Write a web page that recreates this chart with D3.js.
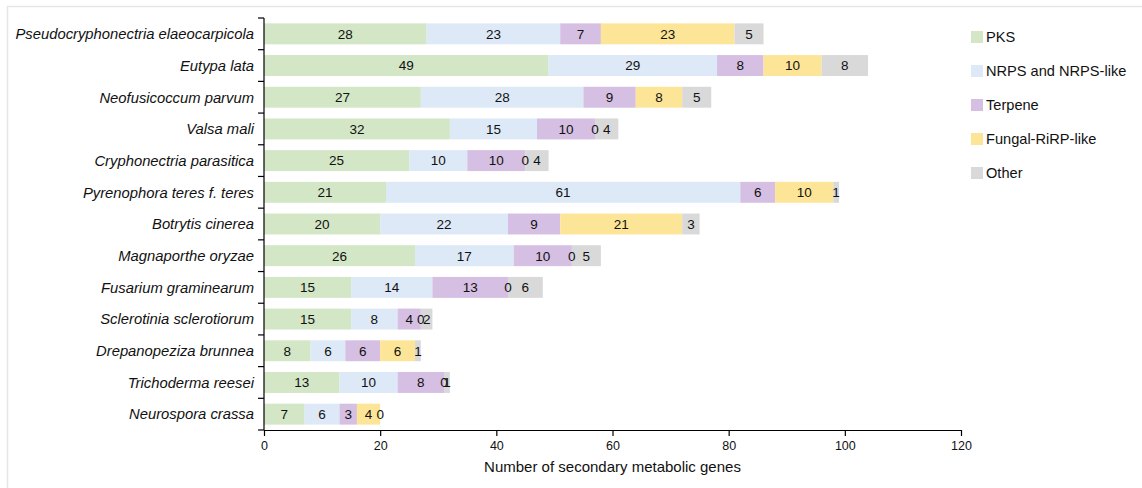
<!DOCTYPE html>
<html>
<head>
<meta charset="utf-8">
<script src="https://cdn.jsdelivr.net/npm/d3@7"></script>
<style>
  html, body { margin: 0; padding: 0; background: #fff; }
  svg { display: block; font-family: "Liberation Sans", Arial, Helvetica, sans-serif; }
</style>
</head>
<body>
<svg id="chart" width="1142" height="488"></svg>
<script>
// Fungal species (top to bottom)
const species = [
  "Pseudocryphonectria elaeocarpicola",
  "Eutypa lata",
  "Neofusicoccum parvum",
  "Valsa mali",
  "Cryphonectria parasitica",
  "Pyrenophora teres f. teres",
  "Botrytis cinerea",
  "Magnaporthe oryzae",
  "Fusarium graminearum",
  "Sclerotinia sclerotiorum",
  "Drepanopeziza brunnea",
  "Trichoderma reesei",
  "Neurospora crassa"
];

// Gene cluster classes
const classes = ["PKS", "NRPS and NRPS-like", "Terpene", "Fungal-RiRP-like", "Other"];

// Gene counts per class, in species order
const pks     = [28, 49, 27, 32, 25, 21, 20, 26, 15, 15, 8, 13, 7];
const nrps    = [23, 29, 28, 15, 10, 61, 22, 17, 14, 8, 6, 10, 6];
const terpene = [7, 8, 9, 10, 10, 6, 9, 10, 13, 4, 6, 8, 3];
const ripp    = [23, 10, 8, 0, 0, 10, 21, 0, 0, 0, 6, 0, 4];
const other   = [5, 8, 5, 4, 4, 1, 3, 5, 6, 2, 1, 1, 0];

const xTicks = [0, 20, 40, 60, 80, 100, 120];
const colors = ["#d3e6c5", "#dde9f6", "#d5bfe2", "#fde598", "#d9d9d9"];

const svg = d3.select("#chart");

// light frame around the figure
svg.append("rect")
  .attr("x", 7.5).attr("y", 6.5)
  .attr("width", 1142).attr("height", 490)
  .attr("fill", "none").attr("stroke", "#e6e6e6").attr("stroke-width", 1.5);

const x = d3.scaleLinear().domain([0, 120]).range([264, 961]);
const y = d3.scaleBand().domain(species).range([18, 430]).paddingInner(0.34).paddingOuter(0.17);

const table = species.map((s, i) => {
  const row = { species: s };
  [pks, nrps, terpene, ripp, other].forEach((arr, k) => row[classes[k]] = arr[i]);
  return row;
});
const stacked = d3.stack().keys(classes)(table);

const g = svg.append("g");

stacked.forEach((layer, k) => {
  const lg = g.append("g").attr("fill", colors[k]);
  lg.selectAll("rect").data(layer).join("rect")
    .attr("x", d => x(d[0]))
    .attr("y", d => y(d.data.species))
    .attr("width", d => x(d[1]) - x(d[0]))
    .attr("height", y.bandwidth());
});

// value labels centred on each segment
stacked.forEach((layer, k) => {
  g.append("g").selectAll("text").data(layer).join("text")
    .attr("x", d => (x(d[0]) + x(d[1])) / 2)
    .attr("y", d => y(d.data.species) + y.bandwidth() / 2)
    .attr("dy", "0.36em")
    .attr("text-anchor", "middle")
    .attr("font-size", 13.5)
    .attr("fill", "#111")
    .text(d => d[1] - d[0]);
});

// y axis: line with ticks at category boundaries
const yAxis = svg.append("g");
yAxis.append("line")
  .attr("x1", 264).attr("x2", 264).attr("y1", 18).attr("y2", 430)
  .attr("stroke", "#000").attr("stroke-width", 1.2);
const bounds = d3.range(species.length + 1).map(i => 18 + i * (412 / species.length));
yAxis.selectAll("line.tick").data(bounds).join("line")
  .attr("class", "tick")
  .attr("x1", 258).attr("x2", 264)
  .attr("y1", d => d).attr("y2", d => d)
  .attr("stroke", "#000").attr("stroke-width", 1.2);
yAxis.selectAll("text").data(species).join("text")
  .attr("x", 254)
  .attr("y", d => y(d) + y.bandwidth() / 2)
  .attr("dy", "0.36em")
  .attr("text-anchor", "end")
  .attr("font-size", 14.8)
  .attr("font-style", "italic")
  .attr("fill", "#111")
  .text(d => d);

// x axis
const xAxis = svg.append("g")
  .attr("transform", "translate(0,430)")
  .call(d3.axisBottom(x).tickValues(xTicks).tickSize(6).tickSizeOuter(0).tickPadding(5));
xAxis.select(".domain").attr("stroke", "#000").attr("stroke-width", 1.2);
xAxis.selectAll(".tick line").attr("stroke", "#000").attr("stroke-width", 1.2);
xAxis.selectAll(".tick text").attr("font-size", 12.5).attr("fill", "#111")
  .attr("font-family", "\"Liberation Sans\", Arial, sans-serif");

svg.append("text")
  .attr("x", (264 + 961) / 2).attr("y", 472)
  .attr("text-anchor", "middle")
  .attr("font-size", 15)
  .attr("fill", "#111")
  .text("Number of secondary metabolic genes");

// legend
const legend = svg.append("g");
classes.forEach((c, i) => {
  const ly = 37 + i * 34;
  legend.append("rect")
    .attr("x", 971).attr("y", ly - 6)
    .attr("width", 12).attr("height", 12)
    .attr("fill", colors[i]);
  legend.append("text")
    .attr("x", 986).attr("y", ly)
    .attr("dy", "0.36em")
    .attr("font-size", 14.6)
    .attr("fill", "#111")
    .text(c);
});
</script>
</body>
</html>
